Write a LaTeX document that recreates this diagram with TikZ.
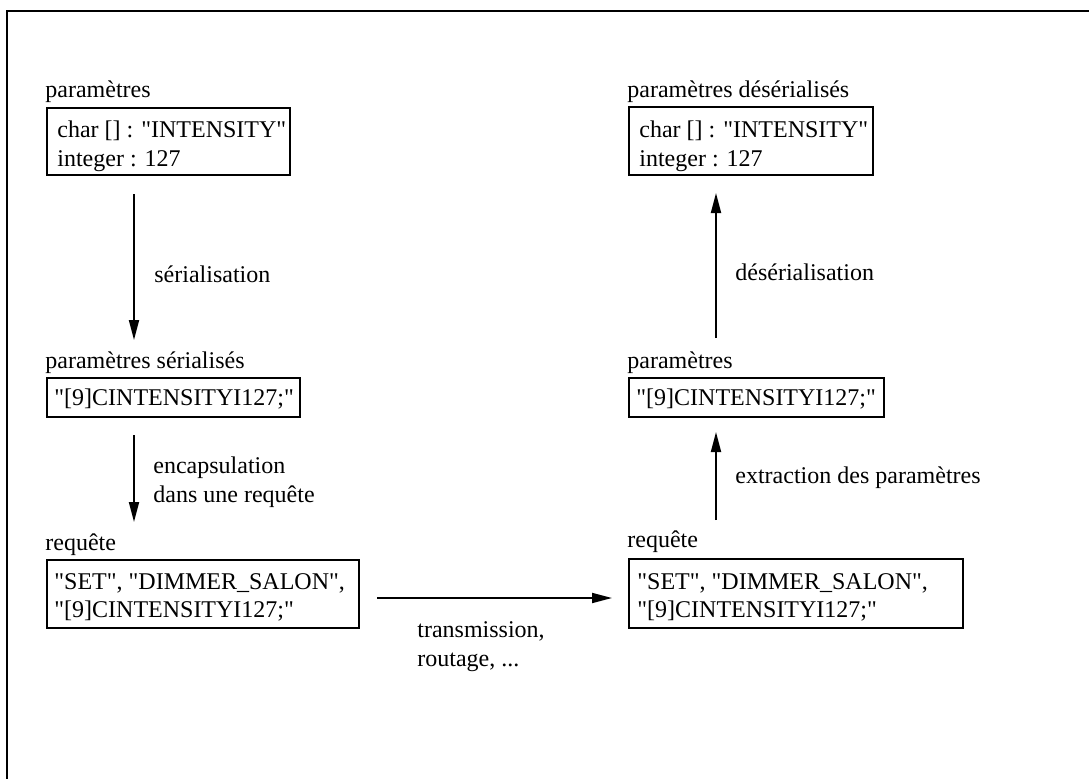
\documentclass[tikz,border=0pt]{standalone}
\usepackage{fontspec}
\setmainfont{Liberation Serif}
\usetikzlibrary{arrows.meta}
\newcommand{\dq}{\textquotedbl}
\begin{document}
\begin{tikzpicture}[x=0.5pt,y=-0.5pt,
  txt/.style={anchor=base west,inner sep=0pt,font=\fontsize{12pt}{14.5pt}\selectfont},
  box/.style={draw,line width=0.8pt,anchor=north west,inner sep=0pt},
  arr/.style={line width=0.9pt,-{Triangle[length=10pt,width=5pt]}},
  frame/.style={line width=1pt}]
\useasboundingbox (0,0) rectangle (1089,778);
\draw[frame] (7,790) -- (7,11) -- (1095,11);

% left column
\node[txt] (l1) at (45,97) {paramètres};
\node[box,minimum width=121.5pt,minimum height=33.5pt] (b1) at (46,107) {};
\node[txt] (t1a) at (57,137) {char [] : \dq INTENSITY\dq};
\node[txt] (t1b) at (57,166) {integer : 127};

\node[txt] (s1) at (154,282) {sérialisation};

\node[txt] (l2) at (45,368) {paramètres sérialisés};
\node[box,minimum width=126.5pt,minimum height=19.5pt] (b2) at (46,377) {};
\node[txt] (t2) at (54,405) {\dq[9]CINTENSITYI127;\dq};

\node[txt] (s2a) at (153,473) {encapsulation};
\node[txt] (s2b) at (153,502) {dans une requête};

\node[txt] (l3) at (45,550) {requête};
\node[box,minimum width=156pt,minimum height=34pt] (b3) at (46,559) {};
\node[txt] (t3a) at (54,589) {\dq SET\dq, \dq DIMMER\_SALON\dq,};
\node[txt] (t3b) at (54,617) {\dq[9]CINTENSITYI127;\dq};

\node[txt] (s3a) at (417,637) {transmission,};
\node[txt] (s3b) at (417,666) {routage, ...};

% right column
\node[txt] (r1) at (627,97) {paramètres désérialisés};
\node[box,minimum width=122pt,minimum height=34pt] (c1) at (628,106) {};
\node[txt] (u1a) at (639,137) {char [] : \dq INTENSITY\dq};
\node[txt] (u1b) at (639,166) {integer : 127};

\node[txt] (q1) at (735,280) {désérialisation};

\node[txt] (r2) at (627,368) {paramètres};
\node[box,minimum width=127.5pt,minimum height=19.5pt] (c2) at (628,377) {};
\node[txt] (u2) at (636,405) {\dq[9]CINTENSITYI127;\dq};

\node[txt] (q2) at (735,483) {extraction des paramètres};

\node[txt] (r3) at (627,547) {requête};
\node[box,minimum width=167pt,minimum height=34.5pt] (c3) at (628,558) {};
\node[txt] (u3a) at (637,589) {\dq SET\dq, \dq DIMMER\_SALON\dq,};
\node[txt] (u3b) at (637,617) {\dq[9]CINTENSITYI127;\dq};

% connector end points
\coordinate (a1s) at (134,194);
\coordinate (a1e) at (134,340);
\coordinate (a2s) at (134,435);
\coordinate (a2e) at (134,522);
\coordinate (a3s) at (377,598);
\coordinate (a3e) at (612,598);
\coordinate (a4s) at (716,520);
\coordinate (a4e) at (716,432);
\coordinate (a5s) at (716,338);
\coordinate (a5e) at (716,193);

\draw[arr] (a1s) -- (a1e);
\draw[arr] (a2s) -- (a2e);
\draw[arr] (a3s) -- (a3e);
\draw[arr] (a4s) -- (a4e);
\draw[arr] (a5s) -- (a5e);
\end{tikzpicture}
\end{document}
